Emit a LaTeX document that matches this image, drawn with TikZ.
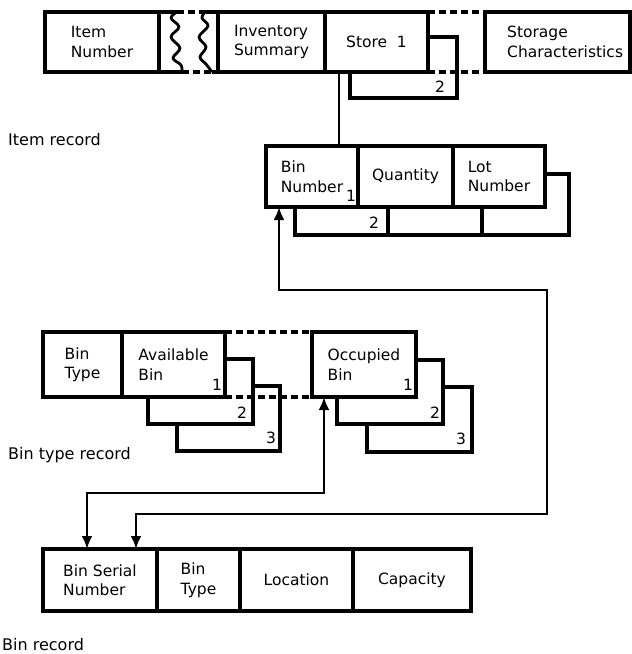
\documentclass[tikz,border=0pt]{standalone}
\usepackage{fontspec}
\setmainfont{DejaVu Sans}
\usetikzlibrary{arrows.meta,calc}

\tikzset{
  box/.style={draw, line width=3.2pt, inner sep=0pt, outer sep=0pt, align=left,
    font=\fontsize{15.5}{19.5}\selectfont},
  layer/.style={draw, line width=3.2pt, line join=miter},
  gapline/.style={line width=3.2pt, dash pattern=on 7pt off 4pt},
  wave/.style={line width=2.8pt, line join=round},
  plainlink/.style={line width=2.6pt},
  link/.style={line width=2.6pt, {Latex[length=13pt,width=11pt]}-{Latex[length=13pt,width=11pt]}},
  num/.style={font=\fontsize{15.5}{15.5}\selectfont, inner sep=0pt},
  caption/.style={font=\fontsize{16}{19}\selectfont, anchor=west, inner sep=0pt},
}

\begin{document}
\begin{tikzpicture}[x=1pt, y=-1pt]
\useasboundingbox (0,0) rectangle (632,654);

% ---------------- Item record ----------------
% repeating store group (second occurrence behind Store 1)
\draw[layer] (428,37) -| (457,98) -| (350,72);
\node[num] (st2) at (440,87) {2};

\node[box, minimum width=114pt, minimum height=60pt] (item) at (102,42) {Item\\Number};
\node[box, minimum width=107pt, minimum height=60pt] (inv) at (271.5,42) {Inventory\\Summary};
\node[box, minimum width=103pt, minimum height=60pt] (store) at (376.5,42) {Store~~1};
\node[box, minimum width=145pt, minimum height=60pt] (storage) at (557.5,42) {};
\node[anchor=west, inner sep=0pt, align=left, font=\fontsize{15.5}{19.5}\selectfont]
  (storagetext) at (507,42) {Storage\\Characteristics};

% omitted fields between Item Number and Inventory Summary
\draw[line width=3.2pt] (item.north east) -- (177,12);
\draw[gapline] (177,12) -- (205,12);
\draw[line width=3.2pt] (205,12) -- (inv.north west);
\draw[line width=3.2pt] (item.south east) -- (182,72);
\draw[gapline] (182,72) -- (212,72);
\draw[line width=3.2pt] (212,72) -- (inv.south west);
\draw[wave] plot[smooth, tension=0.6] coordinates
  {(177,12) (171,18) (179,27) (171,37) (180,48) (173,58) (181,65) (182,72)};
\draw[wave] plot[smooth, tension=0.6] coordinates
  {(205,12) (202,18) (208,26) (199,37) (206,47) (200,57) (206,64) (212,72)};

% omitted stores up to Storage Characteristics
\draw[gapline] (store.north east) -- (storage.north west);
\draw[gapline] (store.south east) -- (storage.south west);

\node[caption] (itemcap) at (8,140) {Item record};

% ---------------- Bin group inside a store ----------------
\draw[layer] (545,174) -| (569,235) -| (295,207);
\draw[layer] (388,207) -- (388,235);
\draw[layer] (482,207) -- (482,235);
\node[num] (bn2) at (374,223) {2};

\node[box, minimum width=92pt, minimum height=61pt] (binno) at (312,176.5) {Bin\\Number};
\node[box, minimum width=95pt, minimum height=61pt] (qty) at (405.5,176.5) {Quantity};
\node[box, minimum width=92pt, minimum height=61pt] (lot) at (499,176.5) {Lot\\Number};
\node[num] (bn1) at ([shift={(-7,-11)}]binno.south east) {1};

\draw[plainlink] ($(store.south west)+(14,0)$) -- ($(binno.north west)+(73,0)$);

% ---------------- Bin type record ----------------
\draw[layer] (253,386) -| (280,451) -| (177,424);
\draw[layer] (225,359) -| (253,424) -| (148,397);
\draw[layer] (443,387) -| (472,452) -| (367,424);
\draw[layer] (416,360) -| (443,424) -| (337,397);
\node[num] (av2) at (242,413) {2};
\node[num] (av3) at (271,438) {3};
\node[num] (oc2) at (435,413) {2};
\node[num] (oc3) at (461,439) {3};

\node[box, minimum width=79pt, minimum height=65pt] (btype) at (82.5,364.5) {Bin\\Type};
\node[box, minimum width=103pt, minimum height=65pt] (avail) at (173.5,364.5) {Available\\Bin};
\node[box, minimum width=104pt, minimum height=65pt] (occ) at (364,364.5) {Occupied\\Bin};
\node[num] (av1) at ([shift={(-8,-12)}]avail.south east) {1};
\node[num] (oc1) at ([shift={(-8,-12)}]occ.south east) {1};

\draw[gapline] (avail.north east) -- (occ.north west);
\draw[gapline] (avail.south east) -- (occ.south west);

\node[caption] (btcap) at (8,455) {Bin type record};

% ---------------- Bin record ----------------
\node[box, minimum width=114pt, minimum height=62pt] (serial) at (100,580) {Bin Serial\\Number};
\node[box, minimum width=83pt, minimum height=62pt] (bt2) at (198.5,580) {Bin\\Type};
\node[box, minimum width=113pt, minimum height=62pt] (loc) at (296.5,580) {Location};
\node[box, minimum width=118pt, minimum height=62pt] (cap) at (412,580) {Capacity};

\node[caption] (bincap) at (2,645) {Bin record};

% ---------------- pointers ----------------
\draw[link] ($(binno.south west)+(13,0)$) -- ++(0,83) -| (547,514)
  -| ($(serial.north west)+(93,0)$);
\draw[link] ($(occ.south west)+(12,0)$) -- ++(0,96)
  -| ($(serial.north west)+(44,0)$);
\end{tikzpicture}
\end{document}
